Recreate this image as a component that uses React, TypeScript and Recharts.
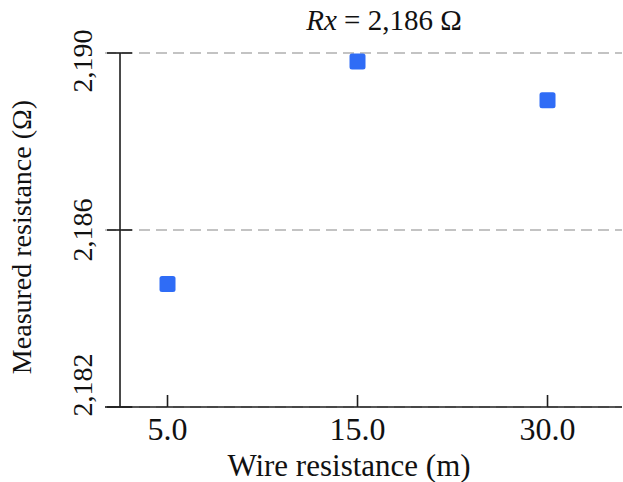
import React from 'react';
import { ScatterChart, Scatter, XAxis, YAxis, CartesianGrid, ReferenceLine } from 'recharts';

// wire lengths shown on the x axis (categories), measured values per category
const wireLabels = ['5.0', '15.0', '30.0'];
const measured = [2184.78, 2189.81, 2188.93];
const yTicks = [2182, 2186, 2190];

const data = wireLabels.map((label, i) => ({ idx: i, label, value: measured[i] }));

const serif = '"Liberation Serif", "Times New Roman", serif';
const axisColor = '#1e1e1e';
const pointColor = '#2f6cf6';

// y axis sits a bit right of the plot's left edge, x axis line sticks out to the left
const Y_AXIS_AT = -0.25;

const YTick = (props: any) => {
  const { x, y, payload } = props;
  // outer labels are pulled inwards like in the original
  const v = Number(payload.value);
  const shift = v === yTicks[0] ? -22 : v === yTicks[yTicks.length - 1] ? 8 : 0;
  const lx = x - 13;
  return (
    <g>
      <line x1={x + 2} x2={x + 27} y1={y} y2={y} stroke={axisColor} strokeWidth={1.6} />
      <text
        x={lx}
        y={y + shift}
        transform={`rotate(-90, ${lx}, ${y + shift})`}
        textAnchor="middle"
        fontFamily={serif}
        fontSize={28}
        fill="#111"
      >
        {v.toLocaleString('en-US')}
      </text>
    </g>
  );
};

const XTick = (props: any) => {
  const { x, y, payload } = props;
  return (
    <g>
      <line x1={x} x2={x} y1={y - 12} y2={y} stroke={axisColor} strokeWidth={1.6} />
      <text x={x} y={y + 33} textAnchor="middle" fontFamily={serif} fontSize={32} fill="#111">
        {wireLabels[payload.value]}
      </text>
    </g>
  );
};

const Square = (props: any) => {
  const { cx, cy } = props;
  return <rect x={cx - 8} y={cy - 8} width={16} height={16} rx={2.5} fill={pointColor} />;
};

export default function App() {
  return (
    <div style={{ position: 'absolute', left: 0, top: 0 }}>
      <ScatterChart width={623} height={482} margin={{ top: 53, right: 1, bottom: 0, left: 0 }}>
        <CartesianGrid vertical={false} stroke="#b0b0b0" strokeDasharray="11 6" strokeWidth={1.4} />
        <XAxis
          type="number"
          dataKey="idx"
          domain={[-0.329, 2.392]}
          ticks={[0, 1, 2]}
          height={75}
          tickSize={0}
          tickMargin={0}
          tickLine={false}
          axisLine={{ stroke: axisColor, strokeWidth: 1.6 }}
          tick={<XTick />}
          interval={0}
        />
        <YAxis
          type="number"
          dataKey="value"
          domain={[2182, 2190]}
          ticks={yTicks}
          width={105}
          tickSize={0}
          tickMargin={0}
          tickLine={false}
          axisLine={false}
          tick={<YTick />}
          interval={0}
        />
        <ReferenceLine x={Y_AXIS_AT} stroke={axisColor} strokeWidth={1.6} />
        <Scatter data={data} shape={<Square />} isAnimationActive={false} />
        <text x={384} y={30} textAnchor="middle" fontFamily={serif} fontSize={29} fill="#111">
          <tspan fontStyle="italic">Rx</tspan> = 2,186 Ω
        </text>
        <text
          x={31}
          y={237}
          transform="rotate(-90, 31, 237)"
          textAnchor="middle"
          fontFamily={serif}
          fontSize={28}
          fill="#111"
        >
          Measured resistance (Ω)
        </text>
        <text x={349} y={476} textAnchor="middle" fontFamily={serif} fontSize={31} fill="#111">
          Wire resistance (m)
        </text>
      </ScatterChart>
    </div>
  );
}
